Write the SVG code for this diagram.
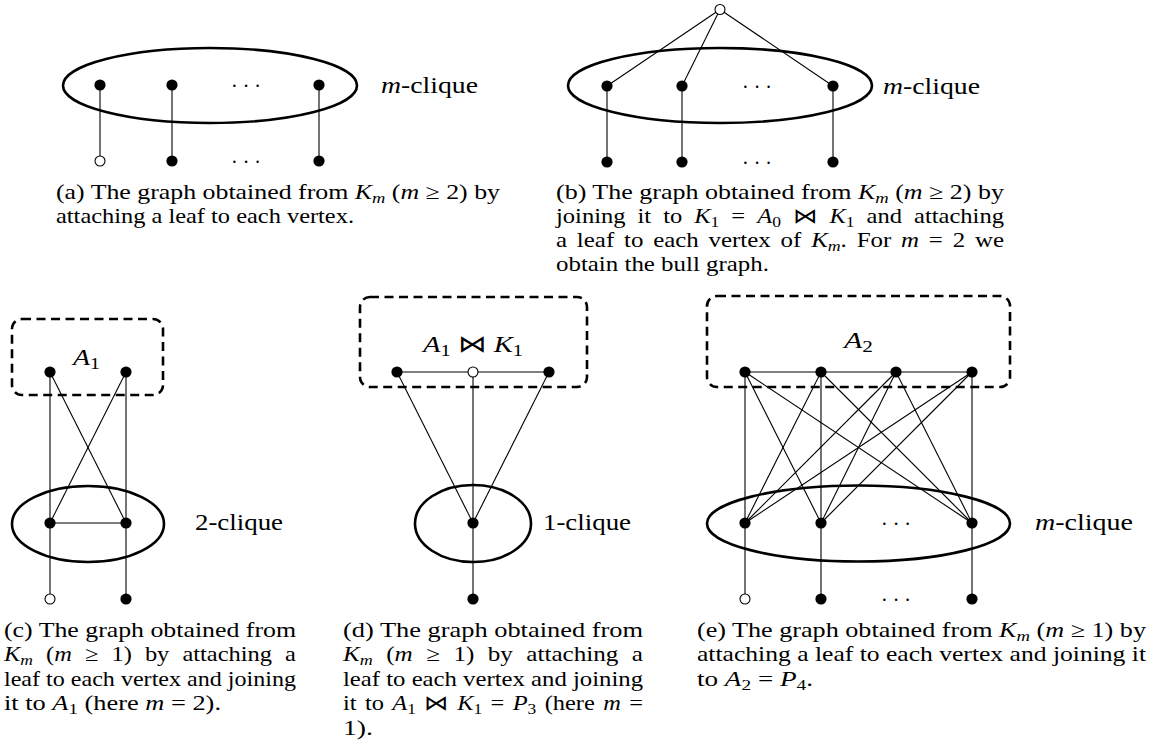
<svg xmlns="http://www.w3.org/2000/svg" width="1156" height="744" viewBox="0 0 1156 744">
<style>
text{font-family:"Liberation Serif","Times New Roman",serif;fill:#000}
.cap{font-size:21px}
.lbl{font-size:24px}
.i{font-style:italic}
.s{font-size:15px}
.ls{font-size:17px}
.e{stroke:#000;stroke-width:1.1;fill:none}
.cl{stroke:#000;stroke-width:2.6;fill:none}
.box{stroke:#000;stroke-width:2.6;fill:none;stroke-dasharray:9 5.5}
.v{fill:#000}
.o{fill:#fff;stroke:#000;stroke-width:1.1}
.dots{font-size:20px}
</style>

<g id="connectors">
  <!-- (a) -->
  <line class="e" x1="100" y1="85" x2="100" y2="161"/>
  <line class="e" x1="172" y1="85" x2="172" y2="161"/>
  <line class="e" x1="319" y1="85" x2="319" y2="161"/>
  <!-- (b) -->
  <line class="e" x1="720" y1="9.5" x2="607" y2="86"/>
  <line class="e" x1="720" y1="9.5" x2="682" y2="86"/>
  <line class="e" x1="720" y1="9.5" x2="833" y2="86"/>
  <line class="e" x1="607" y1="86" x2="607" y2="162"/>
  <line class="e" x1="682" y1="86" x2="682" y2="162"/>
  <line class="e" x1="833" y1="86" x2="833" y2="162"/>
  <!-- (c) -->
  <line class="e" x1="50" y1="372" x2="50" y2="599"/>
  <line class="e" x1="126" y1="372" x2="126" y2="599"/>
  <line class="e" x1="50" y1="372" x2="126" y2="523"/>
  <line class="e" x1="126" y1="372" x2="50" y2="523"/>
  <line class="e" x1="50" y1="523" x2="126" y2="523"/>
  <!-- (d) -->
  <line class="e" x1="397" y1="372" x2="549" y2="372"/>
  <line class="e" x1="397" y1="372" x2="473" y2="523"/>
  <line class="e" x1="549" y1="372" x2="473" y2="523"/>
  <line class="e" x1="473" y1="372" x2="473" y2="599"/>
  <!-- (e) -->
  <line class="e" x1="745" y1="372" x2="972" y2="372"/>
  <line class="e" x1="745" y1="372" x2="745" y2="599"/>
  <line class="e" x1="821" y1="372" x2="821" y2="599"/>
  <line class="e" x1="972" y1="372" x2="972" y2="599"/>
  <line class="e" x1="745" y1="372" x2="821" y2="523"/>
  <line class="e" x1="745" y1="372" x2="972" y2="523"/>
  <line class="e" x1="821" y1="372" x2="745" y2="523"/>
  <line class="e" x1="821" y1="372" x2="972" y2="523"/>
  <line class="e" x1="896" y1="372" x2="745" y2="523"/>
  <line class="e" x1="896" y1="372" x2="821" y2="523"/>
  <line class="e" x1="896" y1="372" x2="972" y2="523"/>
  <line class="e" x1="972" y1="372" x2="745" y2="523"/>
  <line class="e" x1="972" y1="372" x2="821" y2="523"/>
</g>

<g id="panel-a">
  <ellipse id="a-clique" class="cl" cx="210" cy="85.5" rx="147" ry="37.5"/>
  <circle id="a-v1" class="v" cx="100" cy="85" r="5.6"/>
  <circle id="a-v2" class="v" cx="172" cy="85" r="5.6"/>
  <circle id="a-v3" class="v" cx="319" cy="85" r="5.6"/>
  <circle id="a-l1" class="o" cx="100" cy="161" r="5"/>
  <circle id="a-l2" class="v" cx="172" cy="161" r="5.6"/>
  <circle id="a-l3" class="v" cx="319" cy="161" r="5.6"/>
  <text class="dots" x="246" y="93" text-anchor="middle">· · ·</text>
  <text class="dots" x="246" y="169" text-anchor="middle">· · ·</text>
  <text class="lbl" x="381" y="93" textLength="97" lengthAdjust="spacingAndGlyphs"><tspan class="i">m</tspan>-clique</text>
  <text class="cap" x="56" y="199" textLength="444" lengthAdjust="spacingAndGlyphs">(a) The graph obtained from <tspan class="i">K</tspan><tspan class="s i" dy="4">m</tspan><tspan dy="-4"> (</tspan><tspan class="i">m</tspan> ≥ 2) by</text>
  <text class="cap" x="56" y="223" textLength="298" lengthAdjust="spacingAndGlyphs">attaching a leaf to each vertex.</text>
</g>

<g id="panel-b">
  <ellipse id="b-clique" class="cl" cx="720" cy="85.5" rx="152" ry="37.5"/>
  <circle id="b-top" class="o" cx="720" cy="9.5" r="5"/>
  <circle class="v" cx="607" cy="86" r="5.6"/>
  <circle class="v" cx="682" cy="86" r="5.6"/>
  <circle class="v" cx="833" cy="86" r="5.6"/>
  <circle class="v" cx="607" cy="162" r="5.6"/>
  <circle class="v" cx="682" cy="162" r="5.6"/>
  <circle class="v" cx="833" cy="162" r="5.6"/>
  <text class="dots" x="757" y="94" text-anchor="middle">· · ·</text>
  <text class="dots" x="757" y="170" text-anchor="middle">· · ·</text>
  <text class="lbl" x="883" y="94" textLength="97" lengthAdjust="spacingAndGlyphs"><tspan class="i">m</tspan>-clique</text>
  <text class="cap" x="556" y="199" textLength="448" lengthAdjust="spacingAndGlyphs">(b) The graph obtained from <tspan class="i">K</tspan><tspan class="s i" dy="4">m</tspan><tspan dy="-4"> (</tspan><tspan class="i">m</tspan> ≥ 2) by</text>
  <text class="cap" x="556" y="223" textLength="448" lengthAdjust="spacingAndGlyphs" word-spacing="5">joining it to <tspan class="i">K</tspan><tspan class="s" dy="4">1</tspan><tspan dy="-4"> = </tspan><tspan class="i">A</tspan><tspan class="s" dy="4">0</tspan><tspan dy="-4"> ⋈ </tspan><tspan class="i">K</tspan><tspan class="s" dy="4">1</tspan><tspan dy="-4"> and attaching</tspan></text>
  <text class="cap" x="556" y="247" textLength="448" lengthAdjust="spacingAndGlyphs" word-spacing="3">a leaf to each vertex of <tspan class="i">K</tspan><tspan class="s i" dy="4">m</tspan><tspan dy="-4">. For </tspan><tspan class="i">m</tspan> = 2 we</text>
  <text class="cap" x="556" y="271" textLength="213" lengthAdjust="spacingAndGlyphs">obtain the bull graph.</text>
</g>

<g id="panel-c">
  <rect id="c-A1" class="box" x="12" y="319" width="151" height="76" rx="10"/>
  <text class="lbl" x="73" y="365" textLength="27" lengthAdjust="spacingAndGlyphs"><tspan class="i">A</tspan><tspan class="ls" dy="4">1</tspan></text>
  <ellipse id="c-clique" class="cl" cx="88" cy="524" rx="76" ry="38"/>
  <circle class="v" cx="50" cy="372" r="5.6"/>
  <circle class="v" cx="126" cy="372" r="5.6"/>
  <circle class="v" cx="50" cy="523" r="5.6"/>
  <circle class="v" cx="126" cy="523" r="5.6"/>
  <circle class="o" cx="50" cy="599" r="5"/>
  <circle class="v" cx="126" cy="599" r="5.6"/>
  <text class="lbl" x="195" y="530" textLength="88" lengthAdjust="spacingAndGlyphs">2-clique</text>
  <text class="cap" x="4" y="637" textLength="292" lengthAdjust="spacingAndGlyphs">(c) The graph obtained from</text>
  <text class="cap" x="4" y="661" textLength="292" lengthAdjust="spacingAndGlyphs" word-spacing="6"><tspan class="i">K</tspan><tspan class="s i" dy="4">m</tspan><tspan dy="-4"> (</tspan><tspan class="i">m</tspan> ≥ 1) by attaching a</text>
  <text class="cap" x="4" y="686" textLength="292" lengthAdjust="spacingAndGlyphs">leaf to each vertex and joining</text>
  <text class="cap" x="4" y="710" textLength="217" lengthAdjust="spacingAndGlyphs">it to <tspan class="i">A</tspan><tspan class="s" dy="4">1</tspan><tspan dy="-4"> (here </tspan><tspan class="i">m</tspan> = 2).</text>
</g>

<g id="panel-d">
  <rect id="d-A1K1" class="box" x="360" y="297" width="227" height="90" rx="10"/>
  <text class="lbl" x="423" y="352" textLength="100" lengthAdjust="spacingAndGlyphs"><tspan class="i">A</tspan><tspan class="ls" dy="4">1</tspan><tspan dy="-4"> ⋈ </tspan><tspan class="i">K</tspan><tspan class="ls" dy="4">1</tspan></text>
  <ellipse id="d-clique" class="cl" cx="473" cy="523.5" rx="58" ry="38.5"/>
  <circle class="v" cx="397" cy="372" r="5.6"/>
  <circle class="o" cx="473" cy="372" r="5"/>
  <circle class="v" cx="549" cy="372" r="5.6"/>
  <circle class="v" cx="473" cy="523" r="5.6"/>
  <circle class="v" cx="473" cy="599" r="5.6"/>
  <text class="lbl" x="543" y="530" textLength="88" lengthAdjust="spacingAndGlyphs">1-clique</text>
  <text class="cap" x="343" y="637" textLength="300" lengthAdjust="spacingAndGlyphs">(d) The graph obtained from</text>
  <text class="cap" x="343" y="661" textLength="300" lengthAdjust="spacingAndGlyphs" word-spacing="6"><tspan class="i">K</tspan><tspan class="s i" dy="4">m</tspan><tspan dy="-4"> (</tspan><tspan class="i">m</tspan> ≥ 1) by attaching a</text>
  <text class="cap" x="343" y="686" textLength="300" lengthAdjust="spacingAndGlyphs">leaf to each vertex and joining</text>
  <text class="cap" x="343" y="710" textLength="300" lengthAdjust="spacingAndGlyphs" word-spacing="2">it to <tspan class="i">A</tspan><tspan class="s" dy="4">1</tspan><tspan dy="-4"> ⋈ </tspan><tspan class="i">K</tspan><tspan class="s" dy="4">1</tspan><tspan dy="-4"> = </tspan><tspan class="i">P</tspan><tspan class="s" dy="4">3</tspan><tspan dy="-4"> (here </tspan><tspan class="i">m</tspan> =</text>
  <text class="cap" x="343" y="735" textLength="30" lengthAdjust="spacingAndGlyphs">1).</text>
</g>

<g id="panel-e">
  <rect id="e-A2" class="box" x="707" y="296" width="303" height="91" rx="10"/>
  <text class="lbl" x="844" y="348" textLength="29" lengthAdjust="spacingAndGlyphs"><tspan class="i">A</tspan><tspan class="ls" dy="4">2</tspan></text>
  <ellipse id="e-clique" class="cl" cx="858.5" cy="523.5" rx="151.5" ry="38"/>
  <circle class="v" cx="745" cy="372" r="5.6"/>
  <circle class="v" cx="821" cy="372" r="5.6"/>
  <circle class="v" cx="896" cy="372" r="5.6"/>
  <circle class="v" cx="972" cy="372" r="5.6"/>
  <circle class="v" cx="745" cy="523" r="5.6"/>
  <circle class="v" cx="821" cy="523" r="5.6"/>
  <circle class="v" cx="972" cy="523" r="5.6"/>
  <circle class="o" cx="745" cy="599" r="5"/>
  <circle class="v" cx="821" cy="599" r="5.6"/>
  <circle class="v" cx="972" cy="599" r="5.6"/>
  <text class="dots" x="896" y="531" text-anchor="middle">· · ·</text>
  <text class="dots" x="896" y="607" text-anchor="middle">· · ·</text>
  <text class="lbl" x="1035" y="530" textLength="98" lengthAdjust="spacingAndGlyphs"><tspan class="i">m</tspan>-clique</text>
  <text class="cap" x="697" y="637" textLength="449" lengthAdjust="spacingAndGlyphs">(e) The graph obtained from <tspan class="i">K</tspan><tspan class="s i" dy="4">m</tspan><tspan dy="-4"> (</tspan><tspan class="i">m</tspan> ≥ 1) by</text>
  <text class="cap" x="697" y="661" textLength="449" lengthAdjust="spacingAndGlyphs">attaching a leaf to each vertex and joining it</text>
  <text class="cap" x="697" y="686" textLength="116" lengthAdjust="spacingAndGlyphs">to <tspan class="i">A</tspan><tspan class="s" dy="4">2</tspan><tspan dy="-4"> = </tspan><tspan class="i">P</tspan><tspan class="s" dy="4">4</tspan><tspan dy="-4">.</tspan></text>
</g>
</svg>
